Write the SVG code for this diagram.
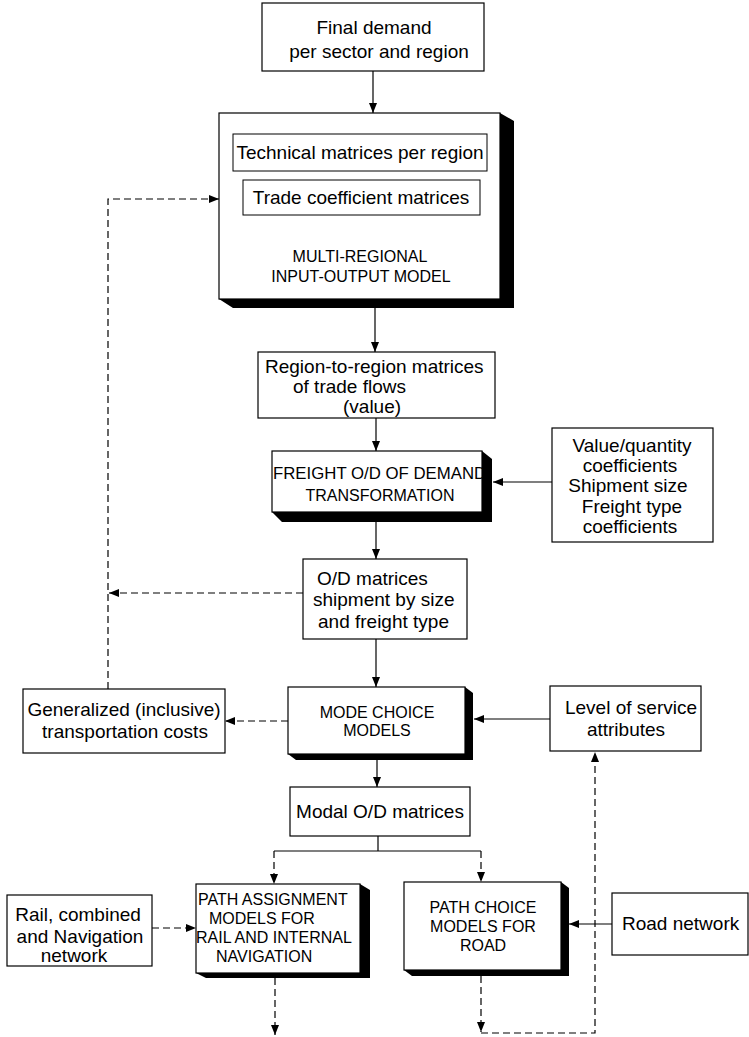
<svg xmlns="http://www.w3.org/2000/svg" width="749" height="1037" viewBox="0 0 749 1037">
<defs>
<style>
.box{fill:#fff;stroke:#000;stroke-width:1.2}
.ib{fill:#fff;stroke:#000;stroke-width:1}
.sh{fill:#000}
.t{font-family:"Liberation Sans",Arial,sans-serif;font-size:19px;fill:#000}
.c{font-family:"Liberation Sans",Arial,sans-serif;font-size:16px;fill:#000}
.m{text-anchor:middle}
.ln{fill:none;stroke:#000;stroke-width:1.2}
.dl{fill:none;stroke:#000;stroke-width:1.2;stroke-dasharray:7 4}
</style>
<marker id="ah" viewBox="0 0 10 8" refX="10" refY="4" markerWidth="10" markerHeight="8" markerUnits="userSpaceOnUse" orient="auto">
<path d="M0,0 L10,4 L0,8 Z" fill="#000"/>
</marker>
</defs>
<rect width="749" height="1037" fill="#fff"/>

<g id="connectors">
<line class="ln" x1="373" y1="71" x2="373" y2="113" marker-end="url(#ah)"/>
<line class="ln" x1="375" y1="308" x2="375" y2="352" marker-end="url(#ah)"/>
<line class="ln" x1="376" y1="418" x2="376" y2="451" marker-end="url(#ah)"/>
<line class="ln" x1="552" y1="482" x2="493" y2="482" marker-end="url(#ah)"/>
<line class="ln" x1="376" y1="522" x2="376" y2="559" marker-end="url(#ah)"/>
<line class="dl" x1="303" y1="593" x2="109" y2="593" marker-end="url(#ah)"/>
<line class="ln" x1="376" y1="639" x2="376" y2="687" marker-end="url(#ah)"/>
<line class="ln" x1="550" y1="719" x2="474" y2="719" marker-end="url(#ah)"/>
<line class="dl" x1="288" y1="721" x2="225" y2="721" marker-end="url(#ah)"/>
<path class="dl" d="M108,689 V199 H219" marker-end="url(#ah)"/>
<line class="ln" x1="377" y1="760" x2="377" y2="787" marker-end="url(#ah)"/>
<path class="ln" d="M378,836 V851 M274,851 H481"/>
<line class="dl" x1="274" y1="851" x2="274" y2="884" marker-end="url(#ah)"/>
<line class="dl" x1="481" y1="851" x2="481" y2="882" marker-end="url(#ah)"/>
<line class="dl" x1="152" y1="928" x2="196" y2="928" marker-end="url(#ah)"/>
<line class="ln" x1="612" y1="924" x2="569" y2="924" marker-end="url(#ah)"/>
<line class="dl" x1="275" y1="978" x2="275" y2="1035" marker-end="url(#ah)"/>
<line class="dl" x1="481" y1="976" x2="481" y2="1032" marker-end="url(#ah)"/>
<path class="dl" d="M481,1033 H595 V752" marker-end="url(#ah)"/>
</g>

<g id="final-demand">
<rect class="box" x="262" y="3" width="222" height="68"/>
<text class="t m" x="374" y="34">Final demand</text>
<text class="t m" x="379" y="58">per sector and region</text>
</g>

<g id="mrio">
<polygon class="sh" points="500,113 514,121 514,308 233,308 219,299 500,299"/>
<rect class="box" x="219" y="113" width="281" height="186"/>
<rect class="ib" x="233" y="134" width="254" height="37"/>
<text class="t m" x="360" y="159">Technical matrices per region</text>
<rect class="ib" x="243" y="180" width="237" height="35"/>
<text class="t m" x="361" y="204">Trade coefficient matrices</text>
<text class="c m" x="360" y="262">MULTI-REGIONAL</text>
<text class="c m" x="361" y="282">INPUT-OUTPUT MODEL</text>
</g>

<g id="region-flows">
<rect class="box" x="258" y="352" width="237" height="66"/>
<text class="t" x="265" y="373">Region-to-region matrices</text>
<text class="t" x="293" y="393">of trade flows</text>
<text class="t" x="343" y="413">(value)</text>
</g>

<g id="freight-transformation">
<polygon class="sh" points="482,451 492,459 492,522 282,522 272,512 482,512"/>
<rect class="box" x="272" y="451" width="210" height="61"/>
<text class="c" x="273" y="479" style="font-size:16.8px">FREIGHT O/D OF DEMAND</text>
<text class="c m" x="380" y="501">TRANSFORMATION</text>
</g>

<g id="coefficients">
<rect class="box" x="552" y="428" width="161" height="114"/>
<text class="t m" x="632" y="452">Value/quantity</text>
<text class="t m" x="630" y="472">coefficients</text>
<text class="t m" x="628" y="492">Shipment size</text>
<text class="t m" x="632" y="513">Freight type</text>
<text class="t m" x="630" y="533">coefficients</text>
</g>

<g id="od-matrices">
<rect class="box" x="303" y="559" width="164" height="80"/>
<text class="t" x="317" y="585">O/D matrices</text>
<text class="t" x="313" y="606">shipment by size</text>
<text class="t" x="318" y="628">and freight type</text>
</g>

<g id="generalized-costs">
<rect class="box" x="23" y="689" width="202" height="64"/>
<text class="t m" x="124" y="716">Generalized (inclusive)</text>
<text class="t m" x="125" y="738">transportation costs</text>
</g>

<g id="mode-choice">
<polygon class="sh" points="465,687 473,693 473,760 296,760 288,754 465,754"/>
<rect class="box" x="288" y="687" width="177" height="67"/>
<text class="c m" x="377" y="718">MODE CHOICE</text>
<text class="c m" x="377" y="736">MODELS</text>
</g>

<g id="level-of-service">
<rect class="box" x="550" y="686" width="151" height="65"/>
<text class="t m" x="631" y="714">Level of service</text>
<text class="t m" x="626" y="736">attributes</text>
</g>

<g id="modal-od">
<rect class="box" x="290" y="787" width="180" height="49"/>
<text class="t m" x="380" y="818">Modal O/D matrices</text>
</g>

<g id="rail-network">
<rect class="box" x="7" y="895" width="145" height="71"/>
<text class="t m" x="78" y="921">Rail, combined</text>
<text class="t m" x="80" y="943">and Navigation</text>
<text class="t m" x="74" y="962">network</text>
</g>

<g id="path-assignment">
<polygon class="sh" points="360,884 370,890 370,978 206,978 196,973 360,973"/>
<rect class="box" x="196" y="884" width="164" height="89"/>
<text class="c" x="198" y="905">PATH ASSIGNMENT</text>
<text class="c" x="209" y="924">MODELS FOR</text>
<text class="c" x="196" y="943">RAIL AND INTERNAL</text>
<text class="c" x="216" y="962">NAVIGATION</text>
</g>

<g id="path-choice">
<polygon class="sh" points="561,882 569,888 569,976 412,976 404,970 561,970"/>
<rect class="box" x="404" y="882" width="157" height="88"/>
<text class="c m" x="483" y="913">PATH CHOICE</text>
<text class="c m" x="483" y="932">MODELS FOR</text>
<text class="c m" x="483" y="951">ROAD</text>
</g>

<g id="road-network">
<rect class="box" x="612" y="893" width="136" height="62"/>
<text class="t" x="622" y="930">Road network</text>
</g>
</svg>
